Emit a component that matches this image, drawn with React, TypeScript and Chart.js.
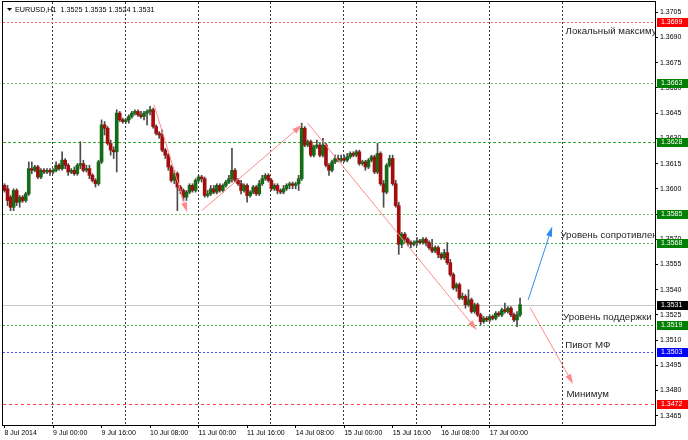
import React, { useEffect, useRef } from 'react';
import { Chart, registerables } from 'chart.js';

Chart.register(...registerables);

// ---------- DATA ----------
const headerText = 'EURUSD,H1  1.3525 1.3535 1.3524 1.3531';

const opens = [
  1.3602, 1.3600, 1.3595, 1.3589, 1.3599, 1.3592, 1.3595, 1.3593, 1.3597, 1.3612,
  1.3611, 1.3613, 1.3607, 1.3611, 1.3610, 1.3611, 1.3610, 1.3611, 1.3614, 1.3612,
  1.3617, 1.3614, 1.3610, 1.3611, 1.3609, 1.3614, 1.3615, 1.3611, 1.3612, 1.3608,
  1.3605, 1.3603, 1.3616, 1.3638, 1.3636, 1.3627, 1.3623, 1.3622, 1.3645, 1.3641,
  1.3640, 1.3641, 1.3643, 1.3645, 1.3646, 1.3644, 1.3643, 1.3645, 1.3646, 1.3647,
  1.3637, 1.3633, 1.3632, 1.3623, 1.3620, 1.3613, 1.3605, 1.3609, 1.3601, 1.3599,
  1.3595, 1.3598, 1.3602, 1.3599, 1.3605, 1.3607, 1.3606, 1.3596, 1.3597, 1.3600,
  1.3598, 1.3602, 1.3599, 1.3602, 1.3604, 1.3606, 1.3611, 1.3605, 1.3603, 1.3599,
  1.3602, 1.3596, 1.3598, 1.3601, 1.3597, 1.3603, 1.3606, 1.3608, 1.3605, 1.3600,
  1.3602, 1.3599, 1.3598, 1.3600, 1.3602, 1.3603, 1.3602, 1.3603, 1.3606, 1.3636,
  1.3626, 1.3628, 1.3620, 1.3625, 1.3626, 1.3620, 1.3626, 1.3614, 1.3611, 1.3616,
  1.3618, 1.3617, 1.3618, 1.3617, 1.3619, 1.3621, 1.3620, 1.3622, 1.3615, 1.3616,
  1.3613, 1.3617, 1.3619, 1.3610, 1.3621, 1.3603, 1.3598, 1.3614, 1.3618, 1.3603,
  1.3590, 1.3567, 1.3573, 1.3570, 1.3568, 1.3567, 1.3568, 1.3569, 1.3568, 1.3570,
  1.3568, 1.3565, 1.3563, 1.3565, 1.3561, 1.3559, 1.3562, 1.3556, 1.3549, 1.3541,
  1.3543, 1.3535, 1.3536, 1.3531, 1.3534, 1.3527, 1.3531, 1.3525, 1.3521, 1.3523,
  1.3522, 1.3524, 1.3523, 1.3526, 1.3525, 1.3528, 1.3527, 1.3529, 1.3525, 1.3522,
  1.3525,
];

const highs = [
  1.3603, 1.3602, 1.3596, 1.3600, 1.3600, 1.3596, 1.3596, 1.3598, 1.3616, 1.3616,
  1.3614, 1.3614, 1.3612, 1.3612, 1.3612, 1.3612, 1.3612, 1.3616, 1.3615, 1.3622,
  1.3618, 1.3615, 1.3612, 1.3613, 1.3615, 1.3628, 1.3617, 1.3614, 1.3614, 1.3609,
  1.3606, 1.3617, 1.3641, 1.3640, 1.3637, 1.3629, 1.3625, 1.3647, 1.3646, 1.3642,
  1.3642, 1.3644, 1.3646, 1.3647, 1.3647, 1.3646, 1.3646, 1.3647, 1.3649, 1.3648,
  1.3638, 1.3634, 1.3635, 1.3624, 1.3621, 1.3614, 1.3611, 1.3610, 1.3602, 1.3600,
  1.3599, 1.3603, 1.3603, 1.3606, 1.3608, 1.3608, 1.3607, 1.3599, 1.3602, 1.3602,
  1.3603, 1.3603, 1.3603, 1.3605, 1.3608, 1.3624, 1.3612, 1.3606, 1.3605, 1.3603,
  1.3603, 1.3599, 1.3602, 1.3602, 1.3605, 1.3608, 1.3609, 1.3609, 1.3606, 1.3603,
  1.3603, 1.3600, 1.3602, 1.3603, 1.3604, 1.3604, 1.3604, 1.3608, 1.3639, 1.3637,
  1.3629, 1.3629, 1.3626, 1.3629, 1.3627, 1.3630, 1.3627, 1.3615, 1.3617, 1.3620,
  1.3620, 1.3620, 1.3620, 1.3621, 1.3622, 1.3622, 1.3623, 1.3623, 1.3617, 1.3617,
  1.3618, 1.3620, 1.3620, 1.3627, 1.3622, 1.3605, 1.3615, 1.3620, 1.3620, 1.3605,
  1.3592, 1.3574, 1.3574, 1.3571, 1.3569, 1.3569, 1.3571, 1.3570, 1.3571, 1.3571,
  1.3569, 1.3570, 1.3566, 1.3566, 1.3562, 1.3564, 1.3568, 1.3558, 1.3550, 1.3544,
  1.3544, 1.3538, 1.3537, 1.3540, 1.3535, 1.3532, 1.3532, 1.3526, 1.3524, 1.3524,
  1.3525, 1.3525, 1.3527, 1.3527, 1.3529, 1.3532, 1.3530, 1.3530, 1.3526, 1.3527,
  1.3535,
];

const lows = [
  1.3598, 1.3590, 1.3587, 1.3587, 1.3590, 1.3589, 1.3592, 1.3592, 1.3596, 1.3609,
  1.3610, 1.3606, 1.3606, 1.3609, 1.3609, 1.3608, 1.3609, 1.3610, 1.3611, 1.3611,
  1.3612, 1.3608, 1.3609, 1.3608, 1.3608, 1.3612, 1.3610, 1.3610, 1.3606, 1.3604,
  1.3601, 1.3602, 1.3615, 1.3632, 1.3626, 1.3620, 1.3618, 1.3610, 1.3640, 1.3639,
  1.3639, 1.3639, 1.3642, 1.3644, 1.3643, 1.3642, 1.3641, 1.3638, 1.3644, 1.3636,
  1.3632, 1.3630, 1.3622, 1.3618, 1.3611, 1.3604, 1.3603, 1.3587, 1.3597, 1.3593,
  1.3593, 1.3597, 1.3598, 1.3598, 1.3604, 1.3604, 1.3595, 1.3595, 1.3596, 1.3597,
  1.3597, 1.3598, 1.3598, 1.3601, 1.3603, 1.3604, 1.3604, 1.3602, 1.3597, 1.3598,
  1.3592, 1.3595, 1.3597, 1.3596, 1.3596, 1.3602, 1.3605, 1.3604, 1.3599, 1.3599,
  1.3597, 1.3597, 1.3597, 1.3599, 1.3600, 1.3600, 1.3600, 1.3599, 1.3605, 1.3625,
  1.3625, 1.3619, 1.3619, 1.3624, 1.3619, 1.3619, 1.3613, 1.3608, 1.3610, 1.3615,
  1.3616, 1.3616, 1.3616, 1.3616, 1.3618, 1.3619, 1.3619, 1.3614, 1.3614, 1.3611,
  1.3612, 1.3616, 1.3609, 1.3609, 1.3602, 1.3589, 1.3597, 1.3613, 1.3602, 1.3589,
  1.3561, 1.3565, 1.3568, 1.3566, 1.3565, 1.3566, 1.3566, 1.3567, 1.3567, 1.3566,
  1.3564, 1.3562, 1.3562, 1.3559, 1.3558, 1.3558, 1.3555, 1.3548, 1.3540, 1.3539,
  1.3534, 1.3534, 1.3529, 1.3530, 1.3526, 1.3526, 1.3524, 1.3519, 1.3520, 1.3521,
  1.3521, 1.3522, 1.3522, 1.3524, 1.3524, 1.3526, 1.3526, 1.3524, 1.3521, 1.3518,
  1.3524,
];

const closes = [
  1.3599, 1.3593, 1.3589, 1.3599, 1.3592, 1.3595, 1.3593, 1.3597, 1.3612, 1.3611,
  1.3613, 1.3607, 1.3611, 1.3610, 1.3611, 1.3610, 1.3611, 1.3614, 1.3612, 1.3617,
  1.3614, 1.3610, 1.3611, 1.3609, 1.3614, 1.3615, 1.3611, 1.3612, 1.3608, 1.3605,
  1.3603, 1.3616, 1.3638, 1.3636, 1.3627, 1.3623, 1.3622, 1.3645, 1.3641, 1.3640,
  1.3641, 1.3643, 1.3645, 1.3646, 1.3644, 1.3643, 1.3645, 1.3646, 1.3647, 1.3637,
  1.3633, 1.3632, 1.3623, 1.3620, 1.3613, 1.3605, 1.3609, 1.3601, 1.3599, 1.3595,
  1.3598, 1.3602, 1.3599, 1.3605, 1.3607, 1.3606, 1.3596, 1.3597, 1.3600, 1.3598,
  1.3602, 1.3599, 1.3602, 1.3604, 1.3606, 1.3611, 1.3605, 1.3603, 1.3599, 1.3602,
  1.3596, 1.3598, 1.3601, 1.3597, 1.3603, 1.3606, 1.3608, 1.3605, 1.3600, 1.3602,
  1.3599, 1.3598, 1.3600, 1.3602, 1.3603, 1.3602, 1.3603, 1.3606, 1.3636, 1.3626,
  1.3628, 1.3620, 1.3625, 1.3626, 1.3620, 1.3626, 1.3614, 1.3611, 1.3616, 1.3618,
  1.3617, 1.3618, 1.3617, 1.3619, 1.3621, 1.3620, 1.3622, 1.3615, 1.3616, 1.3613,
  1.3617, 1.3619, 1.3610, 1.3621, 1.3603, 1.3598, 1.3614, 1.3618, 1.3603, 1.3590,
  1.3567, 1.3573, 1.3570, 1.3568, 1.3567, 1.3568, 1.3569, 1.3568, 1.3570, 1.3568,
  1.3565, 1.3563, 1.3565, 1.3561, 1.3559, 1.3562, 1.3556, 1.3549, 1.3541, 1.3543,
  1.3535, 1.3536, 1.3531, 1.3534, 1.3527, 1.3531, 1.3525, 1.3521, 1.3523, 1.3522,
  1.3524, 1.3523, 1.3526, 1.3525, 1.3528, 1.3527, 1.3529, 1.3525, 1.3522, 1.3525,
  1.3531,
];

// time axis: one label every 16 hourly bars, starting at the first bar
const xTickLabels = [
  '8 Jul 2014', '9 Jul 00:00', '9 Jul 16:00', '10 Jul 08:00', '11 Jul 00:00', '11 Jul 16:00',
  '14 Jul 08:00', '15 Jul 00:00', '15 Jul 16:00', '16 Jul 08:00', '17 Jul 00:00',
];
const barsPerLabel = 16;
const futureSlots = 44; // empty space to the right of the last bar
const daySeparatorBars = [16, 40, 64, 88, 112, 136, 160, 184]; // 00:00 of each day

const yTicks = [
  1.3465, 1.3480, 1.3495, 1.3510, 1.3525, 1.3540, 1.3555, 1.3570, 1.3585,
  1.3600, 1.3615, 1.3630, 1.3645, 1.3660, 1.3675, 1.3690, 1.3705,
];
const yMin = 1.34595;
const yMax = 1.37111;

// horizontal levels
const levelPrices = [1.3699, 1.3663, 1.3628, 1.3585, 1.3568, 1.3531, 1.3519, 1.3503, 1.3472];
const levelLineColors = ['#ff6a6a', '#6cc06c', '#33a833', '#6cc06c', '#45b045', '#c8c8c8', '#45b045', '#4a4aff', '#ff4040'];
const levelDashes = [[2, 2], [2, 2], [3, 2], [2, 2], [2, 2], [], [2, 2], [2, 2], [3, 3]];
const levelTagColors = ['#ff0000', '#008000', '#008000', '#008000', '#008000', '#000000', '#008000', '#0000ff', '#ff0000'];

// text labels (anchored at bar index, price)
const noteTexts = ['Локальный максимум', 'Уровень сопротивления', 'Уровень поддержки', 'Пивот МФ', 'Минимум'];
const noteBars = [185.0, 183.3, 184.2, 184.9, 185.3];
const notePrices = [1.36934, 1.35721, 1.35233, 1.35071, 1.34779];

// arrows (bar index / price)
const arrowStartBars = [49.3, 65.0, 100.0, 172.7, 173.3];
const arrowStartPrices = [1.3650, 1.3587, 1.3639, 1.3534, 1.35294];
const arrowEndBars = [60.2, 98.1, 155.7, 180.6, 187.5];
const arrowEndPrices = [1.3586, 1.3638, 1.3516, 1.35775, 1.34839];
const arrowColors = ['#ff8a8a', '#ff8a8a', '#ff8a8a', '#2a8cf0', '#ff8a8a'];

const bullColor = '#166c16';
const bearColor = '#a30d0d';
const wickColor = '#4a4a4a';

// ---------- build ----------
const slotLabels: string[] = [];
for (let i = 0; i < opens.length + futureSlots; i++) {
  slotLabels.push(i % barsPerLabel === 0 && i / barsPerLabel < xTickLabels.length ? xTickLabels[i / barsPerLabel] : '');
}

const FONT = '"Liberation Sans", Arial, sans-serif';

const overlayPlugin = {
  id: 'mtOverlay',
  beforeDatasetsDraw(chart: any) {
    const { ctx, chartArea: a, scales } = chart;
    const xs = scales.x;
    const ys = scales.y;
    ctx.save();
    ctx.beginPath();
    ctx.rect(a.left, a.top, a.right - a.left, a.bottom - a.top);
    ctx.clip();
    ctx.lineWidth = 1;
    // day separators
    ctx.strokeStyle = '#3a3a3a';
    ctx.setLineDash([2, 2]);
    daySeparatorBars.forEach((b) => {
      const px = Math.round(xs.getPixelForValue(b)) - 0.5;
      ctx.beginPath();
      ctx.moveTo(px, a.top);
      ctx.lineTo(px, a.bottom);
      ctx.stroke();
    });
    // levels
    levelPrices.forEach((p, k) => {
      const py = Math.round(ys.getPixelForValue(p)) + 0.5;
      ctx.strokeStyle = levelLineColors[k];
      ctx.setLineDash(levelDashes[k]);
      ctx.beginPath();
      ctx.moveTo(a.left, py);
      ctx.lineTo(a.right, py);
      ctx.stroke();
    });
    ctx.restore();
  },
  afterDatasetsDraw(chart: any) {
    const { ctx, chartArea: a, scales } = chart;
    const xs = scales.x;
    const ys = scales.y;
    ctx.save();
    ctx.beginPath();
    ctx.rect(a.left, a.top, a.right - a.left, a.bottom - a.top);
    ctx.clip();
    // arrows
    arrowStartBars.forEach((sb, k) => {
      const x1 = xs.getPixelForValue(sb);
      const y1 = ys.getPixelForValue(arrowStartPrices[k]);
      const x2 = xs.getPixelForValue(arrowEndBars[k]);
      const y2 = ys.getPixelForValue(arrowEndPrices[k]);
      const ang = Math.atan2(y2 - y1, x2 - x1);
      const len = 10;
      const hw = 3;
      ctx.strokeStyle = arrowColors[k];
      ctx.fillStyle = arrowColors[k];
      ctx.lineWidth = 1;
      ctx.setLineDash([]);
      ctx.beginPath();
      ctx.moveTo(x1, y1);
      ctx.lineTo(x2 - Math.cos(ang) * 4, y2 - Math.sin(ang) * 4);
      ctx.stroke();
      const bx = x2 - Math.cos(ang) * len;
      const by = y2 - Math.sin(ang) * len;
      ctx.beginPath();
      ctx.moveTo(x2, y2);
      ctx.lineTo(bx + Math.sin(ang) * hw, by - Math.cos(ang) * hw);
      ctx.lineTo(bx - Math.sin(ang) * hw, by + Math.cos(ang) * hw);
      ctx.closePath();
      ctx.fill();
    });
    // notes
    ctx.fillStyle = '#1e1e1e';
    ctx.font = `9.7px ${FONT}`;
    ctx.textAlign = 'left';
    ctx.textBaseline = 'middle';
    noteTexts.forEach((t, k) => {
      ctx.fillText(t, xs.getPixelForValue(noteBars[k]), ys.getPixelForValue(notePrices[k]));
    });
    ctx.restore();
  },
  afterDraw(chart: any) {
    const { ctx, chartArea: a, scales, width } = chart;
    const ys = scales.y;
    ctx.save();
    // frame
    ctx.strokeStyle = '#000';
    ctx.lineWidth = 1;
    ctx.setLineDash([]);
    ctx.strokeRect(a.left - 0.5, a.top - 0.5, a.right - a.left + 1, a.bottom - a.top + 1);
    // price tags
    ctx.font = `7px ${FONT}`;
    ctx.textAlign = 'left';
    ctx.textBaseline = 'middle';
    levelPrices.forEach((p, k) => {
      const py = Math.round(ys.getPixelForValue(p));
      ctx.fillStyle = levelTagColors[k];
      ctx.fillRect(a.right + 2, py - 4, width - a.right - 2, 9);
      ctx.fillStyle = '#ffffff';
      ctx.fillText(p.toFixed(4), a.right + 6, py + 0.5);
    });
    // header
    ctx.fillStyle = '#000';
    ctx.beginPath();
    ctx.moveTo(7, 8);
    ctx.lineTo(12, 8);
    ctx.lineTo(9.5, 11);
    ctx.closePath();
    ctx.fill();
    ctx.font = `7.2px ${FONT}`;
    ctx.fillText(headerText, 15, 10);
    ctx.restore();
  },
};

export default function App() {
  const canvasRef = useRef<HTMLCanvasElement | null>(null);

  useEffect(() => {
    document.body.style.margin = '0';
    const canvas = canvasRef.current;
    if (!canvas) return;
    const bodies = opens.map((o, i) => [o, closes[i]]);
    const wicks = lows.map((l, i) => [l, highs[i]]);
    const chart = new Chart(canvas, {
      type: 'bar',
      data: {
        labels: slotLabels,
        datasets: [
          {
            label: 'body',
            data: bodies as any,
            grouped: false,
            order: 0,
            barThickness: 3,
            minBarLength: 1,
            borderWidth: 0,
            backgroundColor: (c: any) => (closes[c.dataIndex] >= opens[c.dataIndex] ? bullColor : bearColor),
          } as any,
          {
            label: 'wick',
            data: wicks as any,
            grouped: false,
            order: 1,
            barThickness: 1,
            borderWidth: 0,
            backgroundColor: wickColor,
          } as any,
        ],
      },
      options: {
        responsive: false,
        animation: false,
        events: [],
        layout: { padding: { left: 3, top: 2, right: 0, bottom: 0 } },
        plugins: { legend: { display: false }, tooltip: { enabled: false } },
        scales: {
          x: {
            type: 'category',
            offset: true,
            grid: {
              display: true,
              offset: false,
              drawOnChartArea: false,
              drawTicks: true,
              tickLength: 3,
              tickColor: (c: any) => (slotLabels[c.index] ? '#000' : 'rgba(0,0,0,0)'),
            },
            border: { display: true, color: '#000' },
            ticks: {
              autoSkip: false,
              maxRotation: 0,
              minRotation: 0,
              align: 'start',
              padding: 1,
              color: '#000',
              font: { size: 7, family: FONT },
              callback: (_v: any, i: number) => slotLabels[i],
            },
            afterFit: (s: any) => { s.height = 15; s.paddingLeft = 0; s.paddingRight = 0; },
          },
          y: {
            type: 'linear',
            position: 'right',
            min: yMin,
            max: yMax,
            afterBuildTicks: (s: any) => { s.ticks = yTicks.map((v) => ({ value: v })); },
            grid: { display: true, drawOnChartArea: false, tickLength: 3, tickColor: '#000' },
            border: { display: true, color: '#000' },
            ticks: {
              padding: 2,
              color: '#000',
              font: { size: 7, family: FONT },
              callback: (v: any) => Number(v).toFixed(4),
            },
            afterFit: (s: any) => { s.width = 33; s.paddingTop = 0; s.paddingBottom = 0; },
          },
        },
      },
      plugins: [overlayPlugin],
    });
    return () => chart.destroy();
  }, []);

  return (
    <div style={{ width: 688, height: 440, background: '#fff' }}>
      <canvas ref={canvasRef} width={688} height={440} style={{ display: 'block' }} />
    </div>
  );
}
